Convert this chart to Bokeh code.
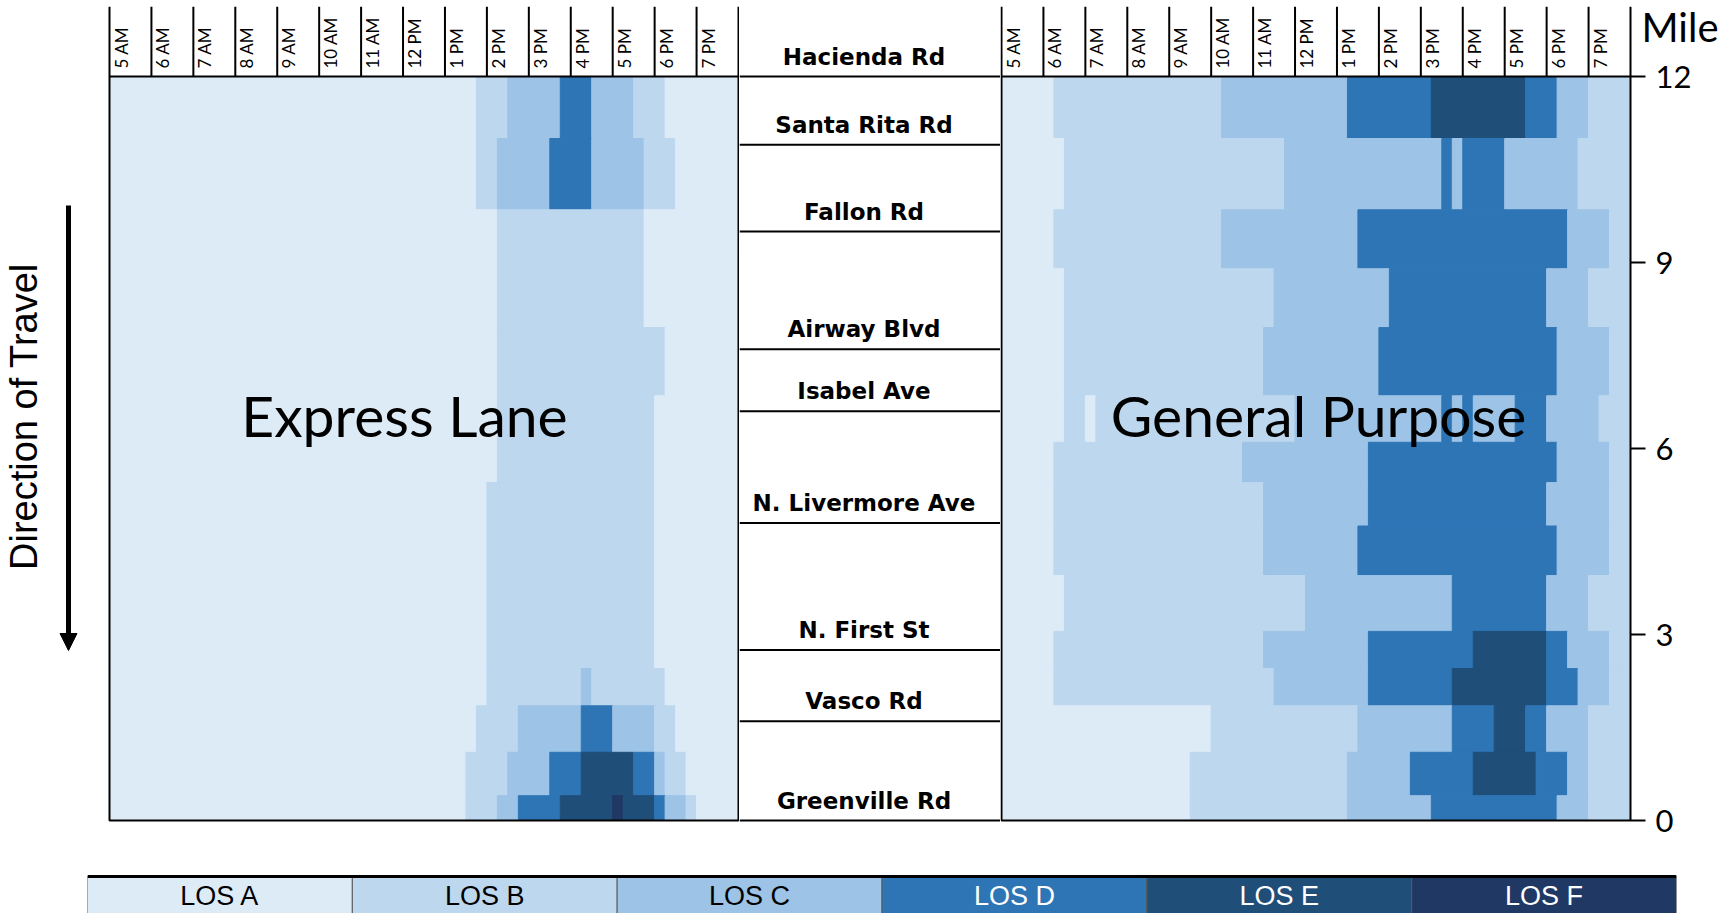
import math
from bokeh.plotting import figure
from bokeh.models import Range1d, Arrow, NormalHead, ColumnDataSource
from bokeh.layouts import row, column
from bokeh.core.properties import value
from bokeh.embed import file_html
from bokeh.resources import INLINE

# ---------------- data ----------------
HOUR_LABELS = ["5 AM", "6 AM", "7 AM", "8 AM", "9 AM", "10 AM", "11 AM", "12 PM",
               "1 PM", "2 PM", "3 PM", "4 PM", "5 PM", "6 PM", "7 PM"]
FIRST_HOUR = 5
SLOTS_PER_HOUR = 4          # 15-minute intervals

# segment boundaries (miles), top to bottom
ROW_EDGES_MI = [12.0, 11.0, 9.85, 8.9, 7.95, 6.85, 6.1, 5.45, 4.75, 3.95,
                3.05, 2.45, 1.85, 1.1, 0.4, 0.0]

# level of service per 15-min slot, run-length coded ("A35" = 35 slots of LOS A)
EXPRESS_LOS = [
    "A35 B3 C5 D3 C4 B3 A7",
    "A35 B2 C5 D4 C5 B3 A6",
    "A37 B14 A9",
    "A37 B14 A9",
    "A37 B16 A7",
    "A37 B15 A8",
    "A37 B15 A8",
    "A36 B16 A8",
    "A36 B16 A8",
    "A36 B16 A8",
    "A36 B16 A8",
    "A36 B9 C1 B7 A7",
    "A35 B4 C6 D3 C4 B2 A6",
    "A34 B4 C4 D3 E5 D2 C1 B2 A5",
    "A34 B3 C2 D4 E5 F1 E3 D1 C2 B1 A4",
]
GP_LOS = [
    "A5 B16 C12 D8 E9 D3 C3 B4",
    "A6 B21 C15 D1 C1 D4 C7 B5",
    "A5 B16 C13 D20 C4 B2",
    "A6 B20 C11 D15 C4 B4",
    "A6 B19 C11 D17 C5 B2",
    "A6 B2 A1 B19 C14 D1 C1 D1 C4 D3 C5 B3",
    "A5 B18 C12 D18 C5 B2",
    "A5 B20 C10 D17 C6 B2",
    "A5 B20 C9 D19 C5 B2",
    "A6 B23 C14 D9 C4 B4",
    "A5 B20 C10 D10 E7 D2 C4 B2",
    "A5 B21 C9 D8 E9 D3 C3 B2",
    "A20 B14 C9 D4 E3 D2 C4 B4",
    "A18 B15 C6 D6 E6 D3 C2 B4",
    "A18 B15 C8 D12 C3 B4",
]

ROADS = ["Hacienda Rd", "Santa Rita Rd", "Fallon Rd", "Airway Blvd", "Isabel Ave",
         "N. Livermore Ave", "N. First St", "Vasco Rd", "Greenville Rd"]
ROAD_MILES = [12.0, 10.9, 9.5, 7.6, 6.6, 4.8, 2.75, 1.6, 0.0]

LOS_LEVELS = ["A", "B", "C", "D", "E", "F"]
LOS_LABELS = ["LOS A", "LOS B", "LOS C", "LOS D", "LOS E", "LOS F"]
LOS_COLORS = ["#DDEBF7", "#BDD7EE", "#9DC3E6", "#2E75B6", "#1F4E79", "#203864"]
LOS_TEXT_COLORS = ["black", "black", "black", "white", "white", "white"]

MILE_TICKS = [0, 3, 6, 9, 12]
MILE_TICK_LABELS = ["0", "3", "6", "9", "12"]

# ---------------- layout constants (pixels) ----------------
N_HOURS = len(HOUR_LABELS)
LAST_HOUR = FIRST_HOUR + N_HOURS
PXH = 629 / N_HOURS            # pixels per hour
PXM = 62.0                     # pixels per mile
TOP_MI = max(ROW_EDGES_MI)
BASE_Y = 820                   # page y of mile 0
HEAD_TOP = 6                   # page y where the header strip starts
FRAME_BOTTOM = 840             # page y where the panel figures end


def mi(page_y):
    return (BASE_Y - page_y) / PXM


Y_TOP = mi(HEAD_TOP)
Y_BOT = mi(FRAME_BOTTOM)
FRAME_H = FRAME_BOTTOM - HEAD_TOP
FIG_H = FRAME_BOTTOM

color_of = dict(zip(LOS_LEVELS, LOS_COLORS))


def cells(rows):
    left, right, bottom, top, fill = [], [], [], [], []
    for i, code in enumerate(rows):
        slot = 0
        for run in code.split():
            lvl, n = run[0], int(run[1:])
            left.append(FIRST_HOUR + slot / SLOTS_PER_HOUR)
            right.append(FIRST_HOUR + (slot + n) / SLOTS_PER_HOUR)
            top.append(ROW_EDGES_MI[i])
            bottom.append(ROW_EDGES_MI[i + 1])
            fill.append(color_of[lvl])
            slot += n
    return ColumnDataSource(dict(left=left, right=right, bottom=bottom, top=top, fill=fill))


def base_fig(width, x_range):
    p = figure(width=width, height=FIG_H, x_range=x_range, y_range=Range1d(Y_BOT, Y_TOP),
               output_backend="svg", toolbar_location=None, x_axis_type=None, y_axis_type=None,
               min_border_left=0, min_border_right=0,
               min_border_top=HEAD_TOP, min_border_bottom=0)
    p.outline_line_color = None
    p.background_fill_color = "white"
    p.border_fill_color = "white"
    return p


def panel(p, rows):
    src = cells(rows)
    p.quad(left="left", right="right", bottom="bottom", top="top", source=src,
           fill_color="fill", line_color="fill", line_width=1)
    hours = list(range(FIRST_HOUR, LAST_HOUR + 1))
    p.segment(x0=hours, y0=[TOP_MI] * len(hours), x1=hours, y1=[Y_TOP] * len(hours),
              line_color="black", line_width=2)
    p.quad(left=[FIRST_HOUR], right=[LAST_HOUR], bottom=[0], top=[TOP_MI],
           fill_color=None, line_color="black", line_width=2)
    p.text(x=[FIRST_HOUR + k + 11.5 / PXH for k in range(N_HOURS)],
           y=[TOP_MI + 8 / PXM] * N_HOURS, text=HOUR_LABELS, angle=math.pi / 2,
           text_align="left", text_baseline="middle",
           text_font=value("Lato"), text_font_size="17px", text_color="black")


# ---------- Express lane panel ----------
pl = base_fig(739, Range1d(FIRST_HOUR - 109 / PXH, LAST_HOUR + 1 / PXH))
panel(pl, EXPRESS_LOS)
pl.text(x=[FIRST_HOUR + 295 / PXH], y=[mi(414)], text=["Express Lane"],
        text_align="center", text_baseline="middle",
        text_font=value("Lato"), text_font_size="57px", text_color="black")
pl.text(x=[FIRST_HOUR - 86 / PXH], y=[mi(416)], text=["Direction of Travel"],
        angle=math.pi / 2, text_align="center", text_baseline="middle",
        text_font=value("Liberation Sans"), text_font_size="38px", text_color="black")
arrow_x = FIRST_HOUR - 41 / PXH
pl.add_layout(Arrow(x_start=arrow_x, y_start=mi(205), x_end=arrow_x, y_end=mi(650),
                    line_width=5, line_color="black",
                    end=NormalHead(size=17, fill_color="black", line_color="black")))

# ---------- Road names (middle) ----------
pm = base_fig(261, Range1d(0, 1))
pm.segment(x0=[0] * len(ROADS), y0=ROAD_MILES, x1=[1] * len(ROADS), y1=ROAD_MILES,
           line_color="black", line_width=2)
pm.text(x=[0.5 - 6 / 261] * len(ROADS), y=[m + 20 / PXM for m in ROAD_MILES], text=ROADS,
        text_align="center", text_baseline="middle",
        text_font=value("DejaVu Sans"), text_font_style="bold", text_font_size="23px",
        text_color="black")

# ---------- General purpose panel (with mile scale at right) ----------
RIGHT_SPACE = 98
pr = base_fig(629 + 1 + RIGHT_SPACE, Range1d(FIRST_HOUR - 1 / PXH, LAST_HOUR + RIGHT_SPACE / PXH))
panel(pr, GP_LOS)
pr.text(x=[FIRST_HOUR + 317 / PXH], y=[mi(414)], text=["General Purpose"],
        text_align="center", text_baseline="middle",
        text_font=value("Lato"), text_font_size="57px", text_color="black")
pr.segment(x0=[LAST_HOUR] * len(MILE_TICKS), y0=MILE_TICKS,
           x1=[LAST_HOUR + 15 / PXH] * len(MILE_TICKS), y1=MILE_TICKS,
           line_color="black", line_width=2)
pr.text(x=[LAST_HOUR + 25 / PXH] * len(MILE_TICKS), y=MILE_TICKS, text=MILE_TICK_LABELS,
        text_align="left", text_baseline="middle",
        text_font=value("Lato"), text_font_size="31px", text_color="black")
pr.text(x=[LAST_HOUR + 11 / PXH], y=[mi(26)], text=["Mile"],
        text_align="left", text_baseline="middle",
        text_font=value("Lato"), text_font_size="40px", text_color="black")

# ---------- Legend ----------
LEG_TOP = FIG_H                 # page y where legend figure starts
BOX_TOP, BOX_PX = 876, 46
LEG_FRAME_TOP = 872
PAGE_BOTTOM = 913
leg = figure(width=1728, height=PAGE_BOTTOM - LEG_TOP,
             x_range=Range1d(0, len(LOS_LABELS)),
             y_range=Range1d(1 - (PAGE_BOTTOM - BOX_TOP) / BOX_PX, 1 + (BOX_TOP - LEG_FRAME_TOP) / BOX_PX),
             output_backend="svg", toolbar_location=None,
             x_axis_type=None, y_axis_type=None,
             min_border_left=87, min_border_right=52,
             min_border_top=LEG_FRAME_TOP - LEG_TOP, min_border_bottom=0)
leg.outline_line_color = None
idx = list(range(len(LOS_LABELS)))
leg.quad(left=idx, right=[i + 1 for i in idx], bottom=[0] * 6, top=[1] * 6,
         fill_color=LOS_COLORS, line_color="#595959", line_width=1)
leg.segment(x0=[0], y0=[1], x1=[len(LOS_LABELS)], y1=[1], line_color="black", line_width=3)
leg.text(x=[i + 0.5 for i in idx], y=[1 - (895 - BOX_TOP) / BOX_PX] * 6, text=LOS_LABELS,
         text_color=LOS_TEXT_COLORS, text_align="center", text_baseline="middle",
         text_font=value("Liberation Sans"), text_font_size="27px")

layout = column(row(pl, pm, pr), leg)
open("out.html", "w").write(file_html(layout, INLINE))
